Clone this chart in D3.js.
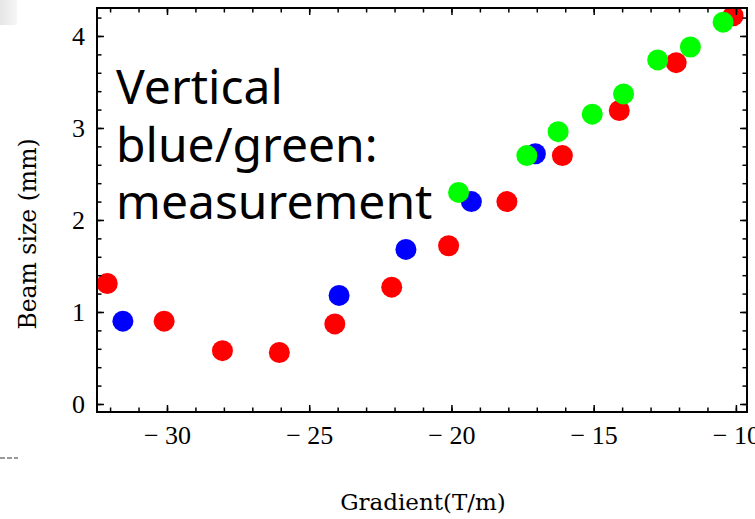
<!DOCTYPE html>
<html>
<head>
<meta charset="utf-8">
<script src="https://cdn.jsdelivr.net/npm/d3@7"></script>
<style>
  html, body { margin: 0; padding: 0; background: #fff; }
  svg { display: block; }
</style>
</head>
<body>
<div id="chart"></div>
<script>
const width = 755;
const height = 519;

// data
const redGradient = [-32.1, -30.1, -28.05, -26.05, -24.1, -22.1, -20.1, -18.05, -16.1, -14.1, -12.1, -10.1];
const redSize = [1.31, 0.90, 0.58, 0.56, 0.87, 1.27, 1.72, 2.20, 2.70, 3.19, 3.71, 4.22];
const blueGradient = [-31.55, -23.95, -21.6, -19.3, -17.05];
const blueSize = [0.90, 1.18, 1.68, 2.20, 2.72];
const greenGradient = [-19.75, -17.35, -16.25, -15.05, -13.95, -12.75, -11.6, -10.45];
const greenSize = [2.30, 2.70, 2.96, 3.15, 3.37, 3.74, 3.88, 4.15];

const xTicks = [-30, -25, -20, -15, -10];
const yTicks = [0, 1, 2, 3, 4];
const noteLines = ['Vertical', 'blue/green:', 'measurement'];

const margin = {left: 97, right: 8, top: 8, bottom: 107};
const plotW = width - margin.left - margin.right;
const plotH = height - margin.top - margin.bottom;

const x = d3.scaleLinear().domain([-32.46, -9.61]).range([0, plotW]);
const y = d3.scaleLinear().domain([-0.087, 4.304]).range([plotH, 0]);

const svg = d3.select('#chart').append('svg')
    .attr('width', width)
    .attr('height', height);

// leftovers from the slide screenshot
const grad = svg.append('defs').append('linearGradient')
    .attr('id', 'corner').attr('x1', 0).attr('x2', 1);
grad.append('stop').attr('offset', 0).attr('stop-color', '#e6e6e6');
grad.append('stop').attr('offset', 1).attr('stop-color', '#f6f6f6');
svg.append('rect').attr('x', 0).attr('y', 0).attr('width', 17).attr('height', 25)
    .attr('fill', 'url(#corner)');
svg.append('line').attr('x1', 0).attr('x2', 18).attr('y1', 458).attr('y2', 458)
    .attr('stroke', '#999').attr('stroke-width', 2).attr('stroke-dasharray', '5,2');

svg.select('defs').append('clipPath').attr('id', 'plot-clip')
  .append('rect').attr('width', plotW).attr('height', plotH);

const g = svg.append('g').attr('transform', `translate(${margin.left},${margin.top})`);

const pts = g.append('g').attr('clip-path', 'url(#plot-clip)');
const series = [
  {xs: redGradient, ys: redSize, color: '#ff0000'},
  {xs: blueGradient, ys: blueSize, color: '#0000ff'},
  {xs: greenGradient, ys: greenSize, color: '#00ff00'}
];
series.forEach(s => {
  pts.append('g').selectAll('circle')
    .data(s.xs.map((v, i) => [v, s.ys[i]]))
    .join('circle')
      .attr('cx', d => x(d[0]))
      .attr('cy', d => y(d[1]))
      .attr('r', 10.5)
      .attr('fill', s.color);
});

// annotation
g.append('text')
    .attr('font-family', '"Noto Sans", sans-serif')
    .attr('font-size', 48)
    .attr('fill', '#000')
  .selectAll('tspan')
  .data(noteLines)
  .join('tspan')
    .attr('x', 19)
    .attr('y', (d, i) => 96 + i * 57.5)
    .text(d => d);

// ticks, pointing inward on all four sides
const minorX = d3.range(-32, -9);
const minorY = d3.range(0, 43).map(i => i / 10).filter((v, i) => i % 2 === 0);
const tickFont = '"Liberation Serif", "Times New Roman", serif';
const fmt = d => d < 0 ? '\u2212 ' + Math.abs(d) : String(d);

function styleAxis(sel) {
  sel.select('.domain').remove();
  sel.selectAll('line').attr('stroke', '#000').attr('stroke-width', 1.5);
  sel.selectAll('text').attr('font-family', tickFont).attr('font-size', 26).attr('fill', '#000');
}

g.append('g').attr('transform', `translate(0,${plotH})`)
    .call(d3.axisBottom(x).tickValues(minorX).tickSize(-4.5).tickFormat('')).call(styleAxis);
g.append('g').attr('transform', `translate(0,${plotH})`)
    .call(d3.axisBottom(x).tickValues(xTicks).tickSize(-7).tickPadding(14).tickFormat(fmt)).call(styleAxis);
g.append('g')
    .call(d3.axisTop(x).tickValues(minorX).tickSize(-4.5).tickFormat('')).call(styleAxis);
g.append('g')
    .call(d3.axisTop(x).tickValues(xTicks).tickSize(-7).tickFormat('')).call(styleAxis);

g.append('g')
    .call(d3.axisLeft(y).tickValues(minorY).tickSize(-4.5).tickFormat('')).call(styleAxis);
g.append('g')
    .call(d3.axisLeft(y).tickValues(yTicks).tickSize(-7).tickPadding(12).tickFormat(d3.format('d'))).call(styleAxis);
g.append('g').attr('transform', `translate(${plotW},0)`)
    .call(d3.axisRight(y).tickValues(minorY).tickSize(-4.5).tickFormat('')).call(styleAxis);
g.append('g').attr('transform', `translate(${plotW},0)`)
    .call(d3.axisRight(y).tickValues(yTicks).tickSize(-7).tickFormat('')).call(styleAxis);

g.append('rect')
    .attr('width', plotW)
    .attr('height', plotH)
    .attr('fill', 'none')
    .attr('stroke', '#000')
    .attr('stroke-width', 2);

// axis titles
svg.append('text')
    .attr('x', margin.left + x(-21))
    .attr('y', 510)
    .attr('text-anchor', 'middle')
    .attr('font-family', '"DejaVu Serif", serif')
    .attr('font-size', 23)
    .text('Gradient(T/m)');

svg.append('text')
    .attr('transform', 'translate(36,234) rotate(-90)')
    .attr('text-anchor', 'middle')
    .attr('font-family', '"DejaVu Serif", serif')
    .attr('font-size', 23.5)
    .text('Beam size (mm)');
</script>
</body>
</html>
